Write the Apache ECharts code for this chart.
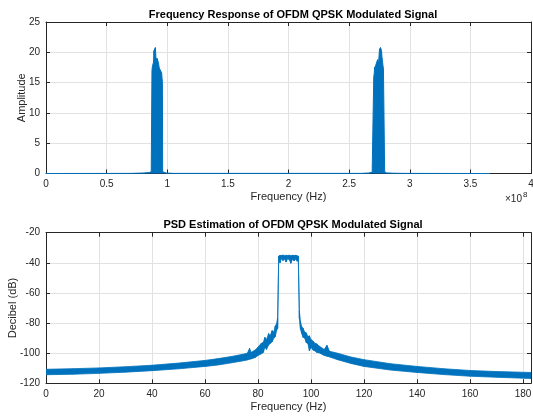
<!DOCTYPE html>
<html><head><meta charset="utf-8">
<script src="https://cdn.jsdelivr.net/npm/echarts@6/dist/echarts.min.js"></script>
<style>html,body{margin:0;padding:0;background:#fff}#c{width:533px;height:416px}</style>
</head><body><div id="c"></div>
<script>
// ---- Top: Frequency response (frequency in units of 1e8 Hz) ----
var topTitle = 'Frequency Response of OFDM QPSK Modulated Signal';
var topXTicks = [0, 0.5, 1, 1.5, 2, 2.5, 3, 3.5, 4];
var topYTicks = [0, 5, 10, 15, 20, 25];
var topFreq = [0, 0.70, 0.80, 0.85, 0.868, 0.874, 0.877, 0.880, 0.884, 0.887, 0.890, 0.893, 0.896, 0.899, 0.902, 0.905, 0.908, 0.911, 0.914, 0.917, 0.920, 0.924, 0.928, 0.931, 0.934, 0.938, 0.942, 0.946, 0.950, 0.954, 0.957, 0.960, 0.962, 0.970, 0.99, 1.05, 2.60, 2.66, 2.69, 2.700, 2.703, 2.707, 2.711, 2.715, 2.720, 2.725, 2.730, 2.735, 2.739, 2.743, 2.747, 2.751, 2.755, 2.759, 2.763, 2.767, 2.771, 2.775, 2.779, 2.783, 2.787, 2.790, 2.793, 2.796, 2.81, 2.86, 2.95, 3.66];
var topAmp  = [0, 0.02, 0.08, 0.15, 0.3, 17.0, 17.6, 17.3, 17.9, 18.4, 20.3, 19.6, 20.6, 20.2, 20.8, 19.8, 18.6, 19.0, 18.4, 19.0, 18.7, 19.0, 18.2, 17.8, 17.4, 17.2, 17.5, 17.1, 17.3, 16.6, 15.7, 15.2, 0.3, 0.2, 0.08, 0.02, 0.02, 0.08, 0.2, 0.3, 15.9, 16.5, 17.6, 17.2, 17.9, 18.0, 17.6, 18.8, 19.0, 18.2, 19.5, 20.6, 20.2, 20.8, 20.5, 20.3, 19.2, 18.6, 17.8, 17.3, 17.5, 17.2, 0.3, 0.2, 0.1, 0.05, 0.02, 0];

// ---- Bottom: PSD estimate (frequency in Hz, upper/lower edge of the noisy trace in dB) ----
var botTitle = 'PSD Estimation of OFDM QPSK Modulated Signal';
var botXTicks = [0, 20, 40, 60, 80, 100, 120, 140, 160, 180];
var botYTicks = [-120, -100, -80, -60, -40, -20];
var psdFreq  = [0, 10, 20, 30, 40, 50, 60, 65, 70, 74, 76, 76.8, 77.4, 79, 80, 80.5, 81.2, 82, 82.6, 83.2, 84, 84.6, 85.3, 86, 86.5, 87, 87.4, 87.8, 88.3, 88.8, 89.4, 90, 90.6, 91.2, 91.8, 92.4, 93, 93.6, 94.2, 94.8, 95.2, 95.6, 96, 96.5, 97, 97.6, 98.2, 98.8, 99.4, 100, 100.8, 101.5, 102.2, 103, 105, 106, 107, 110, 115, 120, 130, 140, 150, 160, 170, 183];
var psdUpper = [-110.7, -110.3, -109.8, -109.0, -108.0, -106.6, -104.8, -103.6, -102.2, -100.8, -100.0, -96.8, -99.5, -97.8, -96.0, -95.0, -93.5, -92.8, -89.5, -91.0, -87.0, -88.5, -85.0, -86.0, -82.0, -80.5, -76.5, -35.5, -35.0, -35.2, -34.8, -35.3, -35.0, -35.2, -34.9, -35.3, -35.0, -35.2, -35.0, -35.3, -35.5, -72.0, -79.0, -82.5, -83.5, -86.0, -86.5, -89.0, -88.5, -91.0, -92.0, -93.5, -93.8, -95.2, -97.5, -94.8, -98.8, -100.0, -102.5, -104.3, -107.0, -108.8, -110.3, -111.5, -112.2, -112.8];
var psdLower = [-114.3, -114.0, -113.4, -112.6, -111.6, -110.4, -108.8, -107.8, -106.4, -105.2, -104.5, -104.0, -103.8, -102.8, -101.5, -101.0, -100.5, -99.5, -96.0, -97.5, -94.5, -93.5, -92.5, -90.0, -89.0, -85.0, -83.5, -38.0, -40.0, -37.2, -38.5, -37.5, -39.5, -37.2, -38.0, -40.3, -37.5, -38.8, -37.5, -39.0, -38.0, -77.0, -84.0, -87.0, -89.5, -90.0, -93.0, -93.5, -98.5, -96.0, -98.0, -98.5, -99.5, -99.7, -101.5, -102.0, -102.5, -104.3, -106.8, -108.8, -111.2, -112.8, -114.2, -115.3, -116.0, -116.8];

var BLUE = '#0072BD', AX = '#262626', GRID = '#e2e2e2';
var FONT = 'Liberation Sans, Arial, sans-serif';

function pairs(xs, ys) { return xs.map(function (x, i) { return [x, ys[i]]; }); }
// one item per segment between consecutive samples: [x0, up0, lo0, x1, up1, lo1]
function bandSegments(xs, hi, lo) {
  var out = [];
  for (var i = 0; i < xs.length - 1; i++) out.push([xs[i], hi[i], lo[i], xs[i + 1], hi[i + 1], lo[i + 1]]);
  return out;
}

function xAxisPair(gi, ticks, max) {
  var step = ticks[1] - ticks[0];
  var base = {
    type: 'value', gridIndex: gi, min: ticks[0], max: max, interval: step,
    axisLine: { show: true, onZero: false, lineStyle: { color: AX, width: 1 } },
    axisTick: { show: true, inside: true, length: 4, lineStyle: { color: AX } },
    splitLine: { show: false }
  };
  var bottom = Object.assign({}, base, {
    position: 'bottom',
    axisLabel: { show: true, color: AX, fontSize: 10, fontFamily: FONT, margin: 6, showMaxLabel: ticks[ticks.length - 1] === max },
    splitLine: { show: true, lineStyle: { color: GRID, width: 1 } },
    name: 'Frequency (Hz)', nameLocation: 'middle', nameGap: 18,
    nameTextStyle: { color: AX, fontSize: 11, fontFamily: FONT }
  });
  var top = Object.assign({}, base, { position: 'top', axisLabel: { show: false } });
  return [bottom, top];
}
function yAxisPair(gi, ticks, name, gap) {
  var step = ticks[1] - ticks[0];
  var base = {
    type: 'value', gridIndex: gi, min: ticks[0], max: ticks[ticks.length - 1], interval: step,
    axisLine: { show: true, onZero: false, lineStyle: { color: AX, width: 1 } },
    axisTick: { show: true, inside: true, length: 4, lineStyle: { color: AX } },
    splitLine: { show: false }
  };
  var left = Object.assign({}, base, {
    position: 'left',
    axisLabel: { show: true, color: AX, fontSize: 10, fontFamily: FONT, margin: 6 },
    splitLine: { show: true, lineStyle: { color: GRID, width: 1 } },
    name: name, nameLocation: 'middle', nameGap: gap, nameMoveOverlap: false,
    nameTextStyle: { color: AX, fontSize: 11, fontFamily: FONT }
  });
  var right = Object.assign({}, base, { position: 'right', axisLabel: { show: false } });
  return [left, right];
}

var xa = xAxisPair(0, topXTicks, 4).concat(xAxisPair(1, botXTicks, 183));
var ya = yAxisPair(0, topYTicks, 'Amplitude', 19).concat(yAxisPair(1, botYTicks, 'Decibel (dB)', 28));

var option = {
  animation: false,
  backgroundColor: '#fff',
  textStyle: { fontFamily: FONT },
  title: [
    { text: topTitle, left: 288, top: 4, textAlign: 'center', textStyle: { fontSize: 11, fontWeight: 'bold', color: '#000', fontFamily: FONT } },
    { text: botTitle, left: 288, top: 214, textAlign: 'center', textStyle: { fontSize: 11, fontWeight: 'bold', color: '#000', fontFamily: FONT } }
  ],
  grid: [
    { left: 46, top: 22, width: 485, height: 151.5, outerBoundsMode: 'none', containLabel: false },
    { left: 46, top: 232.7, width: 485, height: 150.6, outerBoundsMode: 'none', containLabel: false }
  ],
  xAxis: xa,
  yAxis: ya,
  graphic: [{
    type: 'text', left: 505, top: 191,
    style: { text: '{a|×10}{b|8}', rich: { a: { fontSize: 10, fill: AX, fontFamily: FONT, padding: [5, 0, 0, 0] }, b: { fontSize: 8, fill: AX, fontFamily: FONT, padding: [0, 0, 4, 1] } } }
  }],
  series: [
    {
      type: 'line', xAxisIndex: 0, yAxisIndex: 0, data: pairs(topFreq, topAmp),
      symbol: 'none', lineStyle: { color: BLUE, width: 1 }, areaStyle: { color: BLUE, opacity: 1 }
    },
    {
      type: 'custom', xAxisIndex: 2, yAxisIndex: 2, clip: true,
      data: bandSegments(psdFreq, psdUpper, psdLower),
      encode: { x: [0, 3], y: [1, 2, 4, 5] },
      renderItem: function (params, api) {
        var a = api.coord([api.value(0), api.value(1)]);
        var b = api.coord([api.value(3), api.value(4)]);
        var c = api.coord([api.value(3), api.value(5)]);
        var d = api.coord([api.value(0), api.value(2)]);
        return { type: 'polygon', shape: { points: [a, b, c, d] }, style: { fill: BLUE, stroke: BLUE, lineWidth: 0.8 } };
      }
    }
  ]
};
var chart = echarts.init(document.getElementById('c'), null, { renderer: 'canvas' });
chart.setOption(option);
</script></body></html>
